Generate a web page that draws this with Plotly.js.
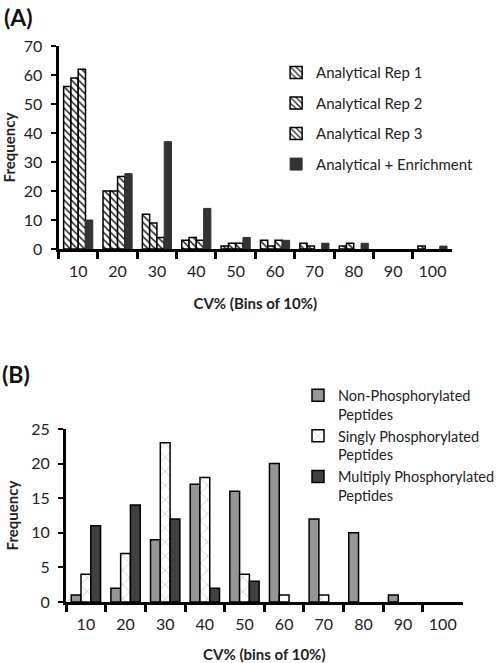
<!DOCTYPE html>
<html><head><meta charset="utf-8">
<script src="https://cdn.plot.ly/plotly-3.0.1.min.js"></script>
<style>html,body{margin:0;padding:0;background:#fff}#chart{width:500px;height:663px}</style>
</head><body><div id="chart"></div>
<script>
// Panel A data
const bins = ['10','20','30','40','50','60','70','80','90','100'];
const rep1 = [56,20,12,3,1,3,2,1,0,1];
const rep2 = [59,20,9,4,2,1,1,2,0,0];
const rep3 = [62,25,4,3,2,3,0,0,0,0];
const enrich = [10,26,37,14,4,3,2,2,0,1];
const namesA = ['Analytical Rep 1','Analytical Rep 2','Analytical Rep 3','Analytical + Enrichment'];
// Panel B data
const nonPhos = [1,2,9,17,16,20,12,10,1,0];
const singlyPhos = [4,7,23,18,4,1,1,0,0,0];
const multiPhos = [11,14,12,2,3,0,0,0,0,0];
const namesB = ['Non-Phosphorylated<br>Peptides','Singly Phosphorylated<br>Peptides','Multiply Phosphorylated<br>Peptides'];

const FONT = 'Lato, "Open Sans", sans-serif';
const nz = (arr) => arr.map(v => v === 0 ? null : v);
const hatch = (sz) => ({shape:'\\', fgcolor:'#222', bgcolor:'#fff', size:sz, solidity:0.3});

const traces = [
  {type:'bar', x:bins, y:nz(rep1), name:namesA[0], xaxis:'x', yaxis:'y', legend:'legend', legendgroup:'a1',
   marker:{color:'#fff', line:{color:'#000', width:1.5}, pattern:hatch(5)}},
  {type:'bar', x:bins, y:nz(rep2), name:namesA[1], xaxis:'x', yaxis:'y', legend:'legend', legendgroup:'a2',
   marker:{color:'#fff', line:{color:'#000', width:1.5}, pattern:hatch(5)}},
  {type:'bar', x:bins, y:nz(rep3), name:namesA[2], xaxis:'x', yaxis:'y', legend:'legend', legendgroup:'a3',
   marker:{color:'#fff', line:{color:'#000', width:1.5}, pattern:hatch(5)}},
  {type:'bar', x:bins, y:nz(enrich), name:namesA[3], xaxis:'x', yaxis:'y', legend:'legend', legendgroup:'a4',
   marker:{color:'#333', line:{color:'#333', width:1}}},
  {type:'bar', x:bins, y:nz(nonPhos), name:namesB[0], xaxis:'x2', yaxis:'y2', legend:'legend2', legendgroup:'b1',
   marker:{color:'#969696', line:{color:'#000', width:1.5}}},
  {type:'bar', x:bins, y:nz(singlyPhos), name:namesB[1], xaxis:'x2', yaxis:'y2', legend:'legend2', legendgroup:'b2',
   marker:{color:'#fff', line:{color:'#000', width:1.5}, pattern:{shape:'x', fgcolor:'#999', bgcolor:'#fff', size:10, solidity:0.08}}},
  {type:'bar', x:bins, y:nz(multiPhos), name:namesB[2], xaxis:'x2', yaxis:'y2', legend:'legend2', legendgroup:'b3',
   marker:{color:'#404040', line:{color:'#000', width:1.5}}}
];

const xCommon = {type:'category', range:[-0.5,9.5], showline:true, linecolor:'#000', linewidth:3,
  ticks:'outside', tickson:'boundaries', ticklen:7, tickwidth:3, tickcolor:'#000', ticklabelstandoff:6,
  showgrid:false, zeroline:false, tickfont:{family:FONT, size:16, color:'#222'}, fixedrange:true};
const yCommon = {showline:true, linecolor:'#000', linewidth:3, ticks:'outside', ticklen:5, tickwidth:2,
  tickcolor:'#000', ticklabelstandoff:5, showgrid:false, zeroline:false, tickfont:{family:FONT, size:16, color:'#222'}, fixedrange:true};

const layout = {
  width:500, height:663, margin:{l:0,r:0,t:0,b:0}, paper_bgcolor:'#fff', plot_bgcolor:'#fff',
  barmode:'group', bargap:0.26, bargroupgap:0, showlegend:true,
  font:{family:FONT, color:'#222'},
  xaxis:Object.assign({}, xCommon, {domain:[0.124,0.958], anchor:'y',
    title:{text:'<b>CV% (Bins of 10%)</b>', font:{family:FONT, size:15, color:'#222'}, standoff:20}}),
  yaxis:Object.assign({}, yCommon, {domain:[0.6244,0.9306], anchor:'x', range:[0,70], dtick:10,
    title:{text:'<b>Frequency</b>', font:{family:FONT, size:15, color:'#222'}, standoff:10}}),
  xaxis2:Object.assign({}, xCommon, {domain:[0.14,0.98], anchor:'y2',
    title:{text:'<b>CV% (bins of 10%)</b>', font:{family:FONT, size:15, color:'#222'}, standoff:20}}),
  yaxis2:Object.assign({}, yCommon, {domain:[0.092,0.353], anchor:'x2', range:[0,25], dtick:5,
    title:{text:'<b>Frequency</b>', font:{family:FONT, size:15, color:'#222'}, standoff:10}}),
  legend:{x:0.585, y:0.915, xanchor:'left', yanchor:'top', bgcolor:'rgba(0,0,0,0)',
    font:{family:FONT, size:15, color:'#222'}, tracegroupgap:8, traceorder:'grouped'},
  legend2:{x:0.632, y:0.428, xanchor:'left', yanchor:'top', bgcolor:'rgba(0,0,0,0)', valign:'top',
    font:{family:FONT, size:14.5, color:'#222'}, tracegroupgap:0, traceorder:'grouped'},
  annotations:[
    {text:'<b>(A)</b>', x:0.005, y:0.998, xref:'paper', yref:'paper', xanchor:'left', yanchor:'top',
     showarrow:false, font:{family:FONT, size:23, color:'#111'}},
    {text:'<b>(B)</b>', x:0.0, y:0.46, xref:'paper', yref:'paper', xanchor:'left', yanchor:'top',
     showarrow:false, font:{family:FONT, size:23, color:'#111'}}
  ]
};

Plotly.newPlot('chart', traces, layout, {staticPlot:true, displayModeBar:false});
</script></body></html>
